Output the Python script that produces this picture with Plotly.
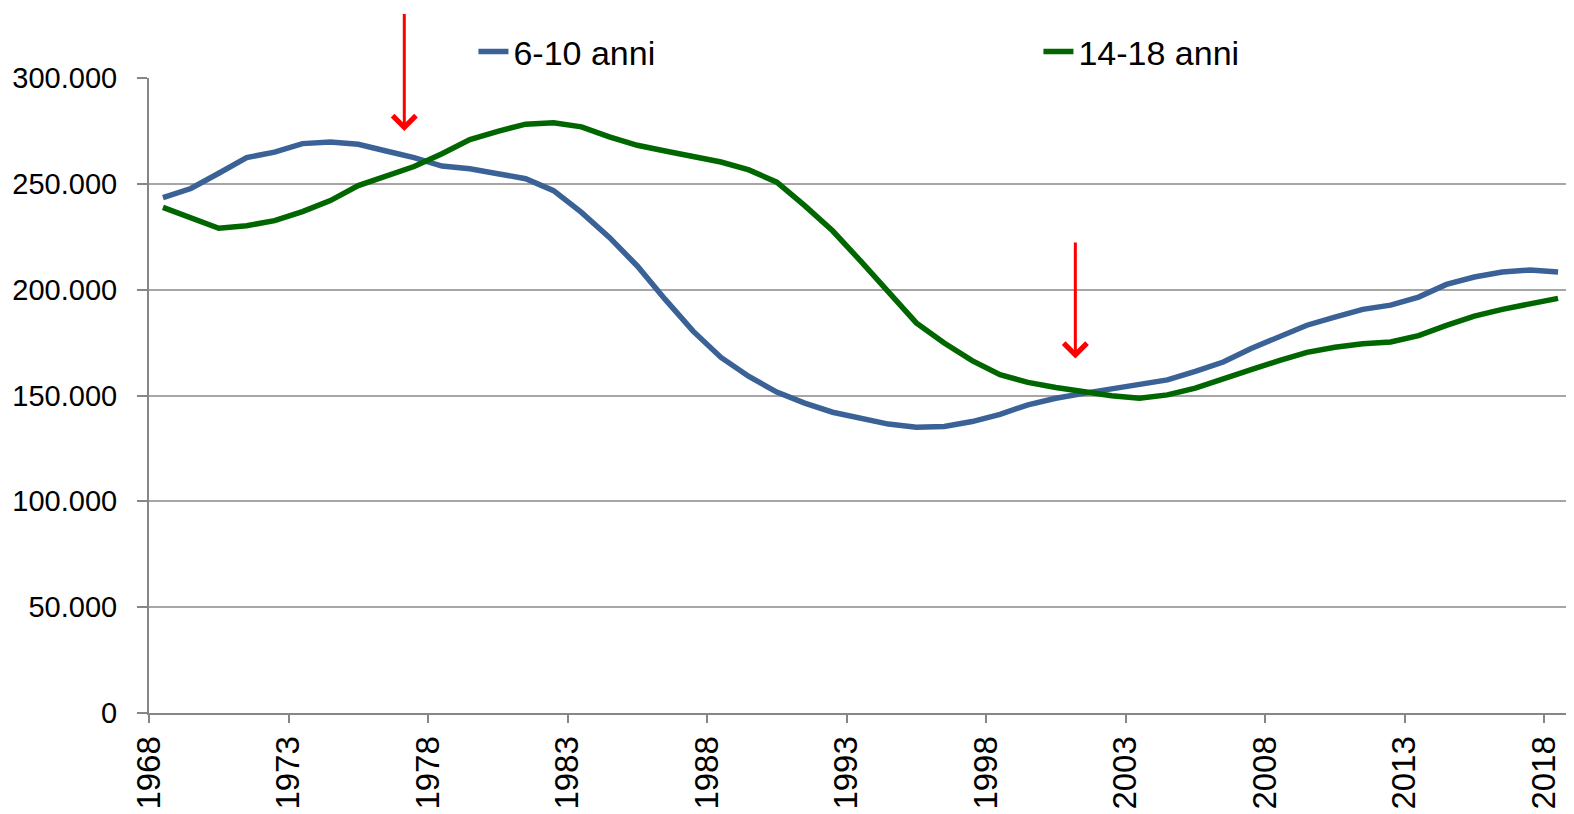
import plotly.graph_objects as go

anni = list(range(1968, 2019))

eta_6_10 = [
    243500, 247800, 255000, 262400, 265000, 269000, 269800, 268700, 265500, 262400,
    258400, 257100, 254800, 252400, 246800, 236500, 224700, 211200, 195400, 180400,
    168000, 159000, 151600, 146400, 142100, 139000, 136500, 135000, 135400, 137700,
    141100, 145600, 148700, 151000, 153300, 155200, 157400, 161400, 165800, 172200,
    178000, 183200, 187000, 190700, 192700, 196500, 202500, 206000, 208300, 209300,
    208400,
]

eta_14_18 = [
    238900, 234200, 229000, 230200, 232600, 236900, 242100, 249200, 253500, 258200,
    264200, 270900, 274800, 278200, 278800, 276900, 272200, 268200, 265500, 263100,
    260300, 256600, 250800, 239700, 227800, 213600, 199400, 184300, 174800, 166500,
    159800, 156200, 153800, 151600, 149900, 148700, 150300, 153500, 157600, 162200,
    166500, 170400, 172800, 174400, 175300, 178300, 183100, 187500, 190700, 193300,
    195900,
]

tick_anni = anni[::5]

# frecce rosse: (anno, valore coda, valore punta)
frecce = [(1976.65, 331000, 275000), (2000.7, 223000, 167500)]

fig = go.Figure()
fig.add_trace(go.Scatter(x=anni, y=eta_6_10, mode="lines", name="6-10 anni",
                         line=dict(color="#3B6296", width=5.5)))
fig.add_trace(go.Scatter(x=anni, y=eta_14_18, mode="lines", name="14-18 anni",
                         line=dict(color="#006600", width=5.5)))

for x, y0, y1 in frecce:
    fig.add_annotation(x=x, y=y1, ax=x, ay=y0, xref="x", yref="y", axref="x", ayref="y",
                       text="", showarrow=True, arrowhead=4, arrowsize=1.5,
                       arrowwidth=3, arrowcolor="#FF0000")

# la pagina ha 8px di margine nel body: figura ridotta di conseguenza
fig.update_layout(
    width=1566, height=806,
    margin=dict(l=141, r=2, t=70, b=101, autoexpand=False),
    plot_bgcolor="white", paper_bgcolor="white",
    separators=",.",
    font=dict(family="Liberation Sans, Arial, sans-serif", color="black"),
    legend=dict(orientation="h", x=0.228, y=1.041, xanchor="left", yanchor="middle",
                font=dict(size=34), entrywidth=520, entrywidthmode="pixels",
                bgcolor="rgba(0,0,0,0)"),
)
fig.update_xaxes(
    range=[1967.5, 2018.5], automargin=False,
    tickvals=[a - 0.5 for a in tick_anni], ticktext=[str(a) for a in tick_anni],
    tickangle=-90, tickfont=dict(size=33),
    ticks="outside", ticklen=8, tickwidth=2, tickcolor="#868686",
    showline=True, linecolor="#868686", linewidth=2, showgrid=False, zeroline=False,
)
fig.update_yaxes(
    range=[0, 300000], dtick=50000, tickformat=",d", automargin=False,
    tickfont=dict(size=29), ticks="outside", ticklen=10, tickwidth=2, tickcolor="#868686",
    showline=True, linecolor="#868686", linewidth=2,
    showgrid=True, gridcolor="#A6A6A6", gridwidth=2, zeroline=False,
    ticklabelstandoff=14,
)

fig.write_html("out.html")
